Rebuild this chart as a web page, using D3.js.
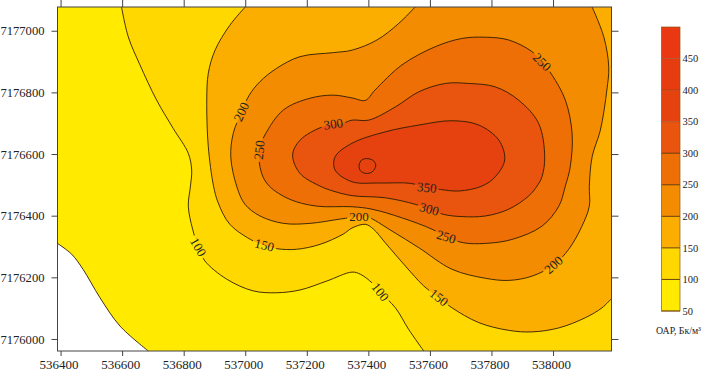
<!DOCTYPE html>
<html>
<head>
<meta charset="utf-8">
<script src="https://cdn.jsdelivr.net/npm/d3@7"></script>
<style>
	html, body { margin: 0; padding: 0; background: #fff; overflow: hidden; }
	svg { display: block; }
	text { font-family: 'Liberation Serif', serif; fill: #222; }
</style>
</head>
<body>
<div id="content"></div>
<script>
// Isolines, [easting, northing]
let contour50 = [[536390,7176310],[536436,7176275],[536473,7176226],[536528,7176134],[536593,7176042],[536685,7175961]];
let contour100 = [[536598,7177077],[536620,7176980],[536658,7176889],[536712,7176775],[536766,7176683],[536815,7176602],[536826,7176548],[536822,7176496],[536815,7176431],[536829,7176356],[536847,7176298],[536869,7176253],[536940,7176194],[537026,7176156],[537102,7176150],[537178,7176159],[537265,7176188],[537347,7176217],[537374,7176210],[537412,7176182],[537438,7176152],[537488,7176101],[537531,7176031],[537580,7175961]];
let contour150 = [[537000,7177077],[536950,7177018],[536902,7176937],[536880,7176862],[536875,7176775],[536880,7176624],[536897,7176496],[536912,7176442],[536950,7176372],[537026,7176318],[537062,7176304],[537102,7176293],[537167,7176291],[537243,7176307],[537318,7176340],[537347,7176360],[537390,7176372],[537417,7176356],[537455,7176312],[537520,7176237],[537580,7176172],[537629,7176134],[537672,7176101],[537759,7176053],[537856,7176028],[537932,7176023],[538019,7176036],[538105,7176069],[538159,7176101],[538190,7176131]];
let contour200 = [[537552,7177077],[537499,7177024],[537428,7176970],[537347,7176937],[537286,7176929],[537178,7176916],[537102,7176878],[537048,7176835],[537013,7176791],[536988,7176737],[536961,7176667],[536953,7176591],[536972,7176496],[536999,7176437],[537048,7176399],[537124,7176375],[537210,7176375],[537308,7176389],[537370,7176397],[537395,7176397],[537477,7176350],[537564,7176296],[537672,7176226],[537780,7176197],[537856,7176190],[537932,7176204],[538002,7176240],[538051,7176291],[538094,7176366],[538118,7176431],[538118,7176496],[538127,7176591],[538154,7176678],[538175,7176808],[538181,7176883],[538165,7176980],[538127,7177077]];
let contour250 = [[537997,7176856],[538040,7176775],[538062,7176667],[538056,7176559],[538040,7176496],[538019,7176431],[537964,7176366],[537867,7176323],[537780,7176310],[537710,7176312],[537653,7176331],[537607,7176356],[537509,7176393],[537412,7176421],[537347,7176429],[537232,7176431],[537145,7176453],[537078,7176496],[537053,7176538],[537045,7176613],[537064,7176662],[537124,7176743],[537210,7176781],[537286,7176791],[537347,7176782],[537390,7176774],[537422,7176808],[537509,7176889],[537617,7176948],[537704,7176975],[537780,7176979],[537856,7176970],[537932,7176932],[537964,7176898]];
let contour300 = [[537253,7176689],[537318,7176700],[537347,7176710],[537401,7176710],[537488,7176753],[537564,7176802],[537650,7176829],[537726,7176829],[537812,7176818],[537888,7176775],[537953,7176700],[537973,7176591],[537964,7176526],[537948,7176496],[537921,7176464],[537856,7176421],[537780,7176399],[537704,7176397],[537645,7176404],[537598,7176421],[537552,7176437],[537455,7176458],[537347,7176465],[537285,7176480],[537243,7176496],[537178,7176537],[537154,7176597],[537178,7176645]];
let contour350 = [[537347,7176635],[537292,7176591],[537292,7176548],[537347,7176510],[537438,7176506],[537536,7176505],[537590,7176491],[537634,7176485],[537694,7176480],[537769,7176496],[537812,7176526],[537843,7176581],[537824,7176645],[537759,7176694],[537672,7176708],[537564,7176694],[537455,7176672]];
let contour400 = [[537370,7176564],[537379,7176581],[537399,7176585],[537418,7176577],[537424,7176561],[537412,7176542],[537392,7176537],[537374,7176546]];

// Labels on the isolines
let labelValues = [200, 250, 300, 350, 300, 250, 200, 200, 250, 150, 100, 100, 150];
let labelX = [536988, 537046, 537286, 537590, 537598, 537653, 537370, 538002, 537964, 537062, 536847, 537438, 537629];
let labelY = [7176737, 7176613, 7176697, 7176491, 7176421, 7176331, 7176397, 7176240, 7176898, 7176304, 7176298, 7176152, 7176134];
let labelAngle = [-65, -85, -8, 5, 15, 17, 0, -42, 45, 14, 60, 52, 38];

let xTicks = [536400, 536600, 536800, 537000, 537200, 537400, 537600, 537800, 538000];
let yTicks = [7176000, 7176200, 7176400, 7176600, 7176800, 7177000];

let levels = [50, 100, 150, 200, 250, 300, 350, 400, 450, 500];
let bandColors = ['#ffea00', '#ffd800', '#fcae00', '#f38c00', '#ee6f05', '#e9540f', '#e5420f', '#e63c10', '#e93812'];
let legendTicks = [50, 100, 150, 200, 250, 300, 350, 400, 450];

let width = 703, height = 372;
let xMin = 536390, xMax = 538190, yMin = 7175961, yMax = 7177077;

let x = d3.scaleLinear().domain([xMin, xMax]).range([57.5, 611.5]);
let y = d3.scaleLinear().domain([yMin, yMax]).range([351, 7]);
let legendY = d3.scaleLinear().domain([50, 500]).range([311, 27]);

let svg = d3.select('#content').append('svg')
	.attr('width', width)
	.attr('height', height);

let openLine = d3.line().x(d => x(d[0])).y(d => y(d[1])).curve(d3.curveCatmullRom);
let closedLine = d3.line().x(d => x(d[0])).y(d => y(d[1])).curve(d3.curveCatmullRomClosed);

// Open isolines get closed round the plot corners for the fill
let bands = [
	{line: contour50, color: bandColors[0], corners: [[xMax, yMin], [xMax, yMax], [xMin, yMax]]},
	{line: contour100, color: bandColors[1], corners: [[xMax, yMin], [xMax, yMax]]},
	{line: contour150, color: bandColors[2], corners: [[xMax, yMax]]},
	{line: contour200, color: bandColors[3], corners: []},
	{line: contour250, color: bandColors[4], closed: true},
	{line: contour300, color: bandColors[5], closed: true},
	{line: contour350, color: bandColors[6], closed: true},
	{line: contour400, color: bandColors[6], closed: true}
];

function fillPath(b) {
	if (b.closed) return closedLine(b.line);
	return openLine(b.line) + b.corners.map(c => 'L' + x(c[0]) + ',' + y(c[1])).join('') + 'Z';
}

// Gaps in the lines under the labels
let defs = svg.append('defs');
let mask = defs.append('mask')
	.attr('id', 'gaps')
	.attr('maskUnits', 'userSpaceOnUse')
	.attr('x', 0).attr('y', 0)
	.attr('width', width).attr('height', height);
mask.append('rect').attr('width', width).attr('height', height).attr('fill', '#fff');
mask.selectAll('rect.gap')
	.data(labelValues)
	.join('rect')
	.attr('class', 'gap')
	.attr('x', -12).attr('y', -6)
	.attr('width', 24).attr('height', 12)
	.attr('fill', '#000')
	.attr('transform', (d, i) => `translate(${x(labelX[i])},${y(labelY[i])}) rotate(${labelAngle[i]})`);

svg.selectAll('path.band')
	.data(bands)
	.join('path')
	.attr('class', 'band')
	.attr('d', fillPath)
	.attr('fill', d => d.color);

svg.append('g')
	.attr('mask', 'url(#gaps)')
	.selectAll('path')
	.data(bands)
	.join('path')
	.attr('d', d => d.closed ? closedLine(d.line) : openLine(d.line))
	.attr('fill', 'none')
	.attr('stroke', '#2e1c00')
	.attr('stroke-width', 0.9);

svg.selectAll('text.isolabel')
	.data(labelValues)
	.join('text')
	.attr('class', 'isolabel')
	.attr('text-anchor', 'middle')
	.attr('dy', '0.33em')
	.attr('font-size', 13)
	.attr('transform', (d, i) => `translate(${x(labelX[i])},${y(labelY[i])}) rotate(${labelAngle[i]})`)
	.text(d => d);

// Frame and ticks on all four sides
svg.append('rect')
	.attr('x', 57.5).attr('y', 7)
	.attr('width', 554).attr('height', 344)
	.attr('fill', 'none')
	.attr('stroke', '#444')
	.attr('stroke-width', 1);

function styleAxis(g) {
	g.select('.domain').remove();
	g.selectAll('line').attr('stroke', '#444');
	g.selectAll('text').attr('font-size', 13).attr('fill', '#222');
}

svg.append('g')
	.attr('transform', 'translate(0,351)')
	.call(d3.axisBottom(x).tickValues(xTicks).tickFormat(d3.format('d')).tickSize(5).tickPadding(4))
	.call(styleAxis)
	.selectAll('text').attr('dx', -2);
svg.append('g')
	.attr('transform', 'translate(57.5,0)')
	.call(d3.axisLeft(y).tickValues(yTicks).tickFormat(d3.format('d')).tickSize(6).tickPadding(7))
	.call(styleAxis)
	.selectAll('text').attr('font-size', 12.6);
svg.append('g')
	.attr('transform', 'translate(0,7)')
	.call(d3.axisTop(x).tickValues(xTicks).tickFormat('').tickSize(7))
	.call(styleAxis);
svg.append('g')
	.attr('transform', 'translate(611.5,0)')
	.call(d3.axisRight(y).tickValues(yTicks).tickFormat('').tickSize(7))
	.call(styleAxis);

// Colour bar
let legend = svg.append('g');
legend.selectAll('rect')
	.data(bandColors)
	.join('rect')
	.attr('x', 661.5)
	.attr('width', 18.5)
	.attr('y', (d, i) => legendY(levels[i + 1]))
	.attr('height', (d, i) => legendY(levels[i]) - legendY(levels[i + 1]))
	.attr('fill', d => d);
legend.selectAll('line')
	.data(legendTicks)
	.join('line')
	.attr('x1', 661.5).attr('x2', 680)
	.attr('y1', d => legendY(d)).attr('y2', d => legendY(d))
	.attr('stroke', '#5a3300')
	.attr('stroke-opacity', d => d > 300 ? 0.35 : 0.9);
legend.append('rect')
	.attr('x', 661.5).attr('y', legendY(500))
	.attr('width', 18.5).attr('height', legendY(50) - legendY(500))
	.attr('fill', 'none')
	.attr('stroke', '#8a5a10')
	.attr('stroke-width', 0.7);
legend.selectAll('text')
	.data(legendTicks)
	.join('text')
	.attr('x', 682.5)
	.attr('y', d => legendY(d))
	.attr('dy', '0.35em')
	.attr('font-size', 10.5)
	.text(d => d);

svg.append('text')
	.attr('x', 656)
	.attr('y', 334)
	.attr('font-size', 9.8)
	.text('ОАР, Бк/м³');
</script>
</body>
</html>
